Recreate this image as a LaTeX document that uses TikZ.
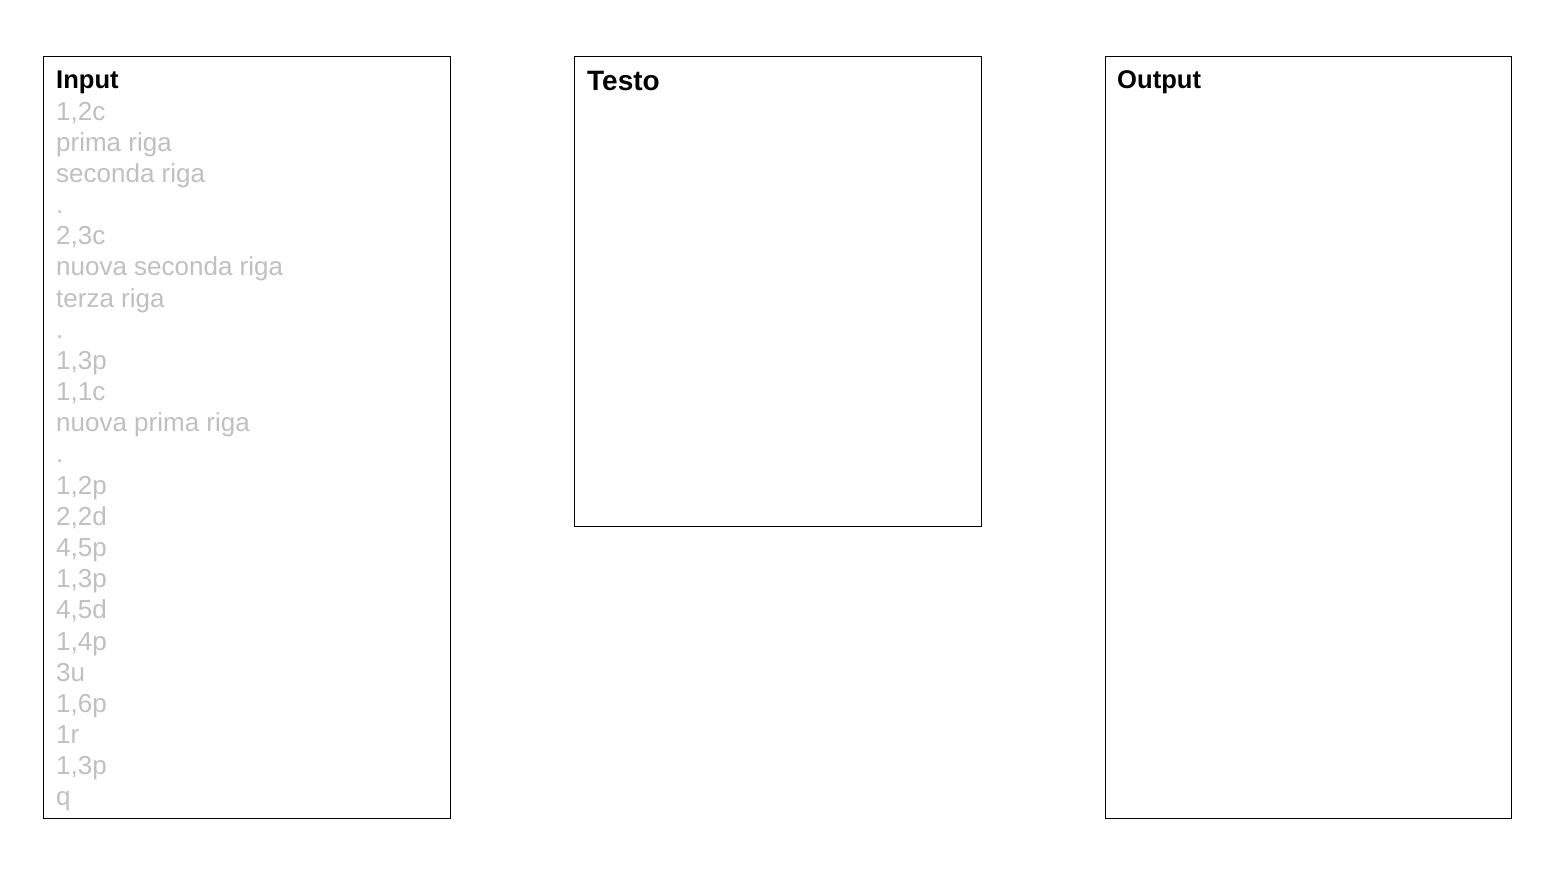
\documentclass[tikz,border=0pt]{standalone}
\usepackage{fontspec}
\setmainfont{Liberation Sans}
\definecolor{greytext}{HTML}{C0C0C0}
\tikzset{
  panel/.style={draw=black, line width=1pt},
  title/.style={anchor=base west, inner sep=0pt, font=\bfseries\fontsize{25.6}{30}\selectfont},
  bigtitle/.style={anchor=base west, inner sep=0pt, font=\bfseries\fontsize{28}{32}\selectfont},
  entry/.style={anchor=base west, inner sep=0pt, text=greytext, font=\fontsize{26}{30}\selectfont}
}
\begin{document}
\begin{tikzpicture}[x=1pt,y=-1pt]
\useasboundingbox (0,0) rectangle (1556,875);
\fill[white] (0,0) rectangle (1556,875);
% panels
\draw[panel] (43.5,56.5) rectangle (450.5,818.5) coordinate (inputbox);
\draw[panel] (574.5,56.5) rectangle (981.5,526.5) coordinate (testobox);
\draw[panel] (1105.5,56.5) rectangle (1511.5,818.5) coordinate (outputbox);
% titles
\node[title] (tinput) at (56,88.7) {Input};
\node[bigtitle] (ttesto) at (587,90) {Testo};
\node[title] (toutput) at (1117,88.7) {Output};
% input lines
\foreach \t [count=\i from 0] in {{1,2c},{prima riga},{seconda riga},{.},{2,3c},{nuova seconda riga},{terza riga},{.},{1,3p},{1,1c},{nuova prima riga},{.},{1,2p},{2,2d},{4,5p},{1,3p},{4,5d},{1,4p},{3u},{1,6p},{1r},{1,3p},{q}}
  \node[entry] (line\i) at (56,{120+31.18*\i}) {\t};
\end{tikzpicture}
\end{document}
